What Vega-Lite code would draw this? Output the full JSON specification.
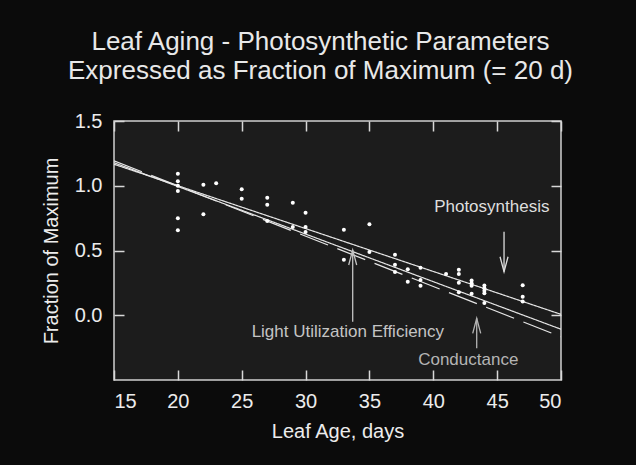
{
  "$schema": "https://vega.github.io/schema/vega-lite/v6.json",
  "width": 447,
  "height": 259,
  "autosize": "none",
  "padding": {"left": 114, "top": 121, "right": 75, "bottom": 85},
  "background": "#0b0b0b",
  "config": {
    "font": "Liberation Sans",
    "view": {"fill": "#1c1c1c", "stroke": "#cfcfcf", "strokeWidth": 1.5},
    "axis": {
      "domain": false,
      "grid": false,
      "ticks": true,
      "zindex": 2,
      "tickColor": "#d8d8d8",
      "tickOpacity": 1,
      "tickWidth": 1.5,
      "tickSize": -10,
      "labelColor": "#ececec",
      "labelFontSize": 20,
      "labelFont": "Liberation Sans",
      "titleColor": "#ececec",
      "titleFontSize": 20,
      "titleFont": "Liberation Sans",
      "titleFontWeight": "normal"
    }
  },
  "title": {
    "text": ["Leaf Aging - Photosynthetic Parameters", "Expressed as Fraction of Maximum (= 20 d)"],
    "fontSize": 26,
    "fontWeight": "normal",
    "font": "Liberation Sans",
    "color": "#e8e8e8",
    "lineHeight": 29,
    "anchor": "middle",
    "dx": -17,
    "offset": 27
  },
  "datasets": {
    "points": [
      {"age": 20, "frac": 1.093}, {"age": 20, "frac": 1.034}, {"age": 20, "frac": 1.0}, {"age": 20, "frac": 0.959}, {"age": 20, "frac": 0.749}, {"age": 20, "frac": 0.656},
      {"age": 22, "frac": 1.008}, {"age": 22, "frac": 0.78},
      {"age": 23, "frac": 1.019},
      {"age": 25, "frac": 0.973}, {"age": 25, "frac": 0.9},
      {"age": 27, "frac": 0.908}, {"age": 27, "frac": 0.854}, {"age": 27, "frac": 0.728},
      {"age": 29, "frac": 0.869}, {"age": 29, "frac": 0.681},
      {"age": 30, "frac": 0.792}, {"age": 30, "frac": 0.681}, {"age": 30, "frac": 0.643},
      {"age": 33, "frac": 0.661}, {"age": 33, "frac": 0.429},
      {"age": 35, "frac": 0.702}, {"age": 35, "frac": 0.488},
      {"age": 37, "frac": 0.468}, {"age": 37, "frac": 0.39}, {"age": 37, "frac": 0.334},
      {"age": 38, "frac": 0.355}, {"age": 38, "frac": 0.259},
      {"age": 39, "frac": 0.367}, {"age": 39, "frac": 0.272}, {"age": 39, "frac": 0.228},
      {"age": 41, "frac": 0.319},
      {"age": 42, "frac": 0.352}, {"age": 42, "frac": 0.319}, {"age": 42, "frac": 0.251}, {"age": 42, "frac": 0.177},
      {"age": 43, "frac": 0.268}, {"age": 43, "frac": 0.247}, {"age": 43, "frac": 0.228}, {"age": 43, "frac": 0.166},
      {"age": 44, "frac": 0.23}, {"age": 44, "frac": 0.208}, {"age": 44, "frac": 0.19}, {"age": 44, "frac": 0.169}, {"age": 44, "frac": 0.095},
      {"age": 47, "frac": 0.231}, {"age": 47, "frac": 0.143}, {"age": 47, "frac": 0.106}
    ],
    "fits": [
      {"series": "Photosynthesis", "age": 15, "frac": 1.166},
      {"series": "Photosynthesis", "age": 50, "frac": 0.007},
      {"series": "Light Utilization Efficiency", "age": 15, "frac": 1.178},
      {"series": "Light Utilization Efficiency", "age": 50, "frac": -0.108},
      {"series": "Conductance", "age": 15, "frac": 1.193},
      {"series": "Conductance", "age": 50, "frac": -0.166}
    ],
    "notes": [
      {"series": "Photosynthesis", "tx": 44.58, "ty": 0.838, "ax": 45.54, "tail": 0.645, "tip": 0.336, "dir": "down"},
      {"series": "Light Utilization Efficiency", "tx": 33.31, "ty": -0.127, "ax": 33.69, "tail": -0.05, "tip": 0.504, "dir": "up"},
      {"series": "Conductance", "tx": 42.74, "ty": -0.346, "ax": 43.4, "tail": -0.255, "tip": -0.024, "dir": "up"}
    ]
  },
  "resolve": {"axis": {"x": "independent", "y": "independent"}},
  "layer": [
    {
      "data": {"name": "fits"},
      "mark": {"type": "line", "strokeWidth": 1.2, "color": "#e6e6e6", "clip": true},
      "encoding": {
        "x": {"field": "age", "type": "quantitative", "scale": {"domain": [15, 50], "nice": false, "zero": false},
              "axis": {"orient": "top", "labels": false, "title": null, "values": [15, 20, 25, 30, 35, 40, 45, 50]}},
        "y": {"field": "frac", "type": "quantitative", "scale": {"domain": [-0.5, 1.5], "nice": false, "zero": false},
              "axis": {"orient": "right", "labels": false, "title": null, "values": [0, 0.5, 1, 1.5]}},
        "detail": {"field": "series"},
        "strokeDash": {"field": "series", "type": "nominal", "legend": null,
          "scale": {"domain": ["Photosynthesis", "Light Utilization Efficiency", "Conductance"], "range": [[1, 0], [1, 0], [30, 10]]}}
      }
    },
    {
      "data": {"name": "points"},
      "mark": {"type": "point", "filled": true, "size": 16, "color": "#ffffff", "opacity": 1},
      "encoding": {
        "x": {"field": "age", "type": "quantitative", "scale": {"domain": [15, 50], "nice": false, "zero": false},
              "axis": {"orient": "bottom", "title": "Leaf Age, days", "values": [15, 20, 25, 30, 35, 40, 45, 50], "labelPadding": 21, "titlePadding": 10}},
        "y": {"field": "frac", "type": "quantitative", "scale": {"domain": [-0.5, 1.5], "nice": false, "zero": false},
              "axis": {"orient": "left", "title": "Fraction of Maximum", "values": [0, 0.5, 1, 1.5], "format": ".1f", "labelPadding": 22, "titlePadding": 13}}
      }
    },
    {
      "data": {"name": "notes"},
      "mark": {"type": "rule", "strokeWidth": 1.3},
      "encoding": {
        "x": {"field": "ax", "type": "quantitative", "axis": null},
        "y": {"field": "tail", "type": "quantitative", "axis": null},
        "y2": {"field": "tip"},
        "color": {"field": "series", "type": "nominal", "legend": null,
          "scale": {"domain": ["Photosynthesis", "Light Utilization Efficiency", "Conductance"], "range": ["#dedede", "#c4c4c4", "#b4b4b4"]}}
      }
    },
    {
      "data": {"name": "notes"},
      "transform": [{"filter": "datum.dir === 'down'"}],
      "mark": {"type": "point", "shape": "M-0.8,-3L0,0L0.8,-3", "filled": false, "size": 100, "strokeWidth": 1.3, "opacity": 1},
      "encoding": {
        "x": {"field": "ax", "type": "quantitative", "axis": null},
        "y": {"field": "tip", "type": "quantitative", "axis": null},
        "color": {"field": "series", "type": "nominal", "legend": null,
          "scale": {"domain": ["Photosynthesis", "Light Utilization Efficiency", "Conductance"], "range": ["#dedede", "#c4c4c4", "#b4b4b4"]}}
      }
    },
    {
      "data": {"name": "notes"},
      "transform": [{"filter": "datum.dir === 'up'"}],
      "mark": {"type": "point", "shape": "M-0.8,3L0,0L0.8,3", "filled": false, "size": 100, "strokeWidth": 1.3, "opacity": 1},
      "encoding": {
        "x": {"field": "ax", "type": "quantitative", "axis": null},
        "y": {"field": "tip", "type": "quantitative", "axis": null},
        "color": {"field": "series", "type": "nominal", "legend": null,
          "scale": {"domain": ["Photosynthesis", "Light Utilization Efficiency", "Conductance"], "range": ["#dedede", "#c4c4c4", "#b4b4b4"]}}
      }
    },
    {
      "data": {"name": "notes"},
      "mark": {"type": "text", "fontSize": 17, "font": "Liberation Sans", "align": "center", "baseline": "middle"},
      "encoding": {
        "x": {"field": "tx", "type": "quantitative", "axis": null},
        "y": {"field": "ty", "type": "quantitative", "axis": null},
        "text": {"field": "series"},
        "color": {"field": "series", "type": "nominal", "legend": null,
          "scale": {"domain": ["Photosynthesis", "Light Utilization Efficiency", "Conductance"], "range": ["#dedede", "#e4e4e4", "#b8b8b8"]}}
      }
    }
  ]
}
